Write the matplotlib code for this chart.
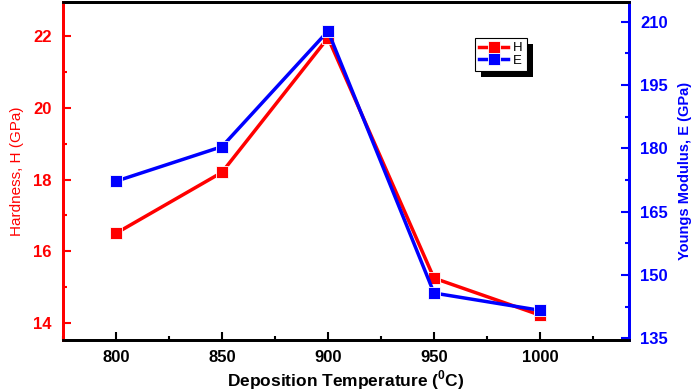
import numpy as np
import matplotlib
matplotlib.use('Agg')
from matplotlib import pyplot as plt
from matplotlib.patches import Rectangle
from matplotlib.transforms import IdentityTransform
from matplotlib.ticker import MultipleLocator

plt.rcParams['font.family'] = ['Liberation Sans', 'DejaVu Sans']
plt.rcParams['mathtext.fontset'] = 'custom'
plt.rcParams['mathtext.rm'] = 'Liberation Sans'
plt.rcParams['mathtext.bf'] = 'Liberation Sans:bold'

# data
temperature = [800, 850, 900, 950, 1000]
hardness = [16.5, 18.2, 21.95, 15.25, 14.22]
modulus = [172.2, 180.4, 207.8, 145.7, 141.6]

red = '#ff0000'
blue = '#0000ff'

fig = plt.figure(figsize=(6.99, 3.92), dpi=100)
ax = fig.add_axes([0.090, 0.133, 0.810, 0.862])
ax2 = ax.twinx()

lh, = ax.plot(temperature, hardness, color=red, lw=2.5, marker='s', ms=8.5,
              mec='white', mew=0.6, label='H', zorder=3)
le, = ax2.plot(temperature, modulus, color=blue, lw=2.5, marker='s', ms=8.5,
               mec='white', mew=0.6, label='E', zorder=3)

ax.set_xlim(775, 1042)
ax.set_ylim(13.53, 22.95)
ax2.set_ylim(134.6, 214.7)

ax.xaxis.set_major_locator(MultipleLocator(50))
ax.xaxis.set_minor_locator(MultipleLocator(25))
ax.yaxis.set_major_locator(MultipleLocator(2))
ax.yaxis.set_minor_locator(MultipleLocator(1))
ax2.yaxis.set_major_locator(MultipleLocator(15))
ax2.yaxis.set_minor_locator(MultipleLocator(7.5))

for a in (ax, ax2):
    for s in a.spines.values():
        s.set_linewidth(2)
ax.spines['left'].set_color(red)
ax2.spines['left'].set_color(red)
ax2.spines['right'].set_color(blue)
ax.spines['right'].set_color(blue)

ax.tick_params(axis='x', which='both', direction='in', top=False, width=1.5,
               labelsize=12, pad=7)
ax.tick_params(axis='x', which='major', length=6)
ax.tick_params(axis='x', which='minor', length=3)
ax.tick_params(axis='y', which='both', direction='in', colors=red, width=1.5,
               labelsize=12, pad=8)
ax.tick_params(axis='y', which='major', length=6)
ax.tick_params(axis='y', which='minor', length=3)
ax2.tick_params(axis='y', which='both', direction='in', colors=blue, width=1.5,
                labelsize=12, pad=8)
ax2.tick_params(axis='y', which='major', length=6)
ax2.tick_params(axis='y', which='minor', length=3)

for lab in ax.get_xticklabels() + ax.get_yticklabels() + ax2.get_yticklabels():
    lab.set_fontweight('bold')

ax.set_xlabel(r'Deposition Temperature ($^{\mathbf{0}}$C)', fontsize=12.5,
              fontweight='bold', labelpad=3)
ax.set_ylabel('Hardness, H (GPa)', fontsize=11, color=red, labelpad=7)
ax2.set_ylabel('Youngs Modulus, E (GPa)', fontsize=10.5, color=blue,
               fontweight='bold', labelpad=7)

leg = ax2.legend(handles=[lh, le], loc='upper left',
                 bbox_to_anchor=(0.728, 0.893), fontsize=9.5, frameon=True,
                 fancybox=False, framealpha=1, handlelength=2.2,
                 handletextpad=0.4, borderpad=0.3, labelspacing=0.0,
                 borderaxespad=0, markerscale=1.05)
leg.set_zorder(6)
frame = leg.get_frame()
frame.set_facecolor('white')
frame.set_edgecolor('black')
frame.set_linewidth(0.8)

# solid black drop shadow behind the legend box
fig.canvas.draw()
bb = leg.get_window_extent()
shadow = Rectangle((bb.x0 + 6, bb.y0 - 6), bb.width, bb.height,
                   transform=IdentityTransform(), facecolor='black',
                   edgecolor='none', zorder=5.5, clip_on=False)
ax2.add_patch(shadow)

fig.savefig('out.png', dpi=100)
